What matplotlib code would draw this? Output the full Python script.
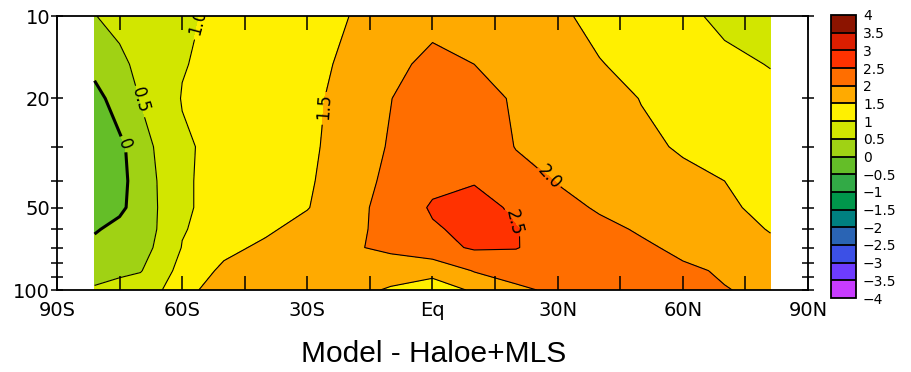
import numpy as np
import matplotlib
matplotlib.use("Agg")
import matplotlib.pyplot as plt
from matplotlib.ticker import NullFormatter, FuncFormatter

# ---- data -------------------------------------------------------------
lats = [-81, -75, -70, -65, -60, -50, -40, -30, -20, -10, 0, 10, 20, 30, 40, 50, 60, 70, 81]
plev = [10, 15, 20, 30, 40, 50, 60, 70, 85, 100]

v_10 = [0.49, 0.60, 0.70, 0.82, 0.93, 1.10, 1.25, 1.38, 1.50, 1.65, 1.85, 1.80, 1.70, 1.56, 1.40, 1.25, 1.10, 0.90, 0.75]
v_15 = [0.12, 0.41, 0.60, 0.77, 0.98, 1.11, 1.25, 1.39, 1.57, 1.85, 2.15, 2.00, 1.85, 1.68, 1.52, 1.38, 1.25, 1.12, 0.98]
v_20 = [-0.15, 0.20, 0.51, 0.77, 1.02, 1.14, 1.28, 1.41, 1.63, 1.99, 2.30, 2.20, 1.94, 1.79, 1.64, 1.49, 1.38, 1.25, 1.15]
v_30 = [-0.40, -0.10, 0.25, 0.65, 0.93, 1.15, 1.28, 1.42, 1.68, 2.05, 2.32, 2.38, 1.98, 1.85, 1.72, 1.58, 1.46, 1.38, 1.30]
v_40 = [-0.45, -0.13, 0.20, 0.58, 0.95, 1.13, 1.28, 1.44, 1.76, 2.12, 2.40, 2.47, 2.22, 1.98, 1.85, 1.72, 1.60, 1.50, 1.42]
v_50 = [-0.42, -0.10, 0.22, 0.56, 0.95, 1.13, 1.31, 1.48, 1.82, 2.19, 2.55, 2.68, 2.42, 2.15, 1.95, 1.82, 1.68, 1.55, 1.42]
v_60 = [-0.05, 0.15, 0.32, 0.55, 0.97, 1.20, 1.43, 1.66, 1.90, 2.12, 2.45, 2.62, 2.52, 2.28, 2.12, 1.95, 1.80, 1.65, 1.48]
v_70 = [0.15, 0.25, 0.38, 0.58, 1.02, 1.38, 1.59, 1.76, 1.94, 2.10, 2.35, 2.55, 2.52, 2.30, 2.20, 2.08, 1.90, 1.75, 1.58]
v_85 = [0.35, 0.42, 0.47, 0.82, 1.15, 1.60, 1.64, 1.70, 1.75, 1.70, 1.62, 2.03, 2.20, 2.30, 2.28, 2.20, 2.08, 1.95, 1.80]
v_100 = [0.55, 0.65, 0.80, 0.98, 1.42, 1.62, 1.70, 1.78, 1.65, 1.45, 1.30, 1.55, 1.90, 2.10, 2.15, 2.12, 2.08, 2.02, 1.90]

levels = [-4, -3.5, -3, -2.5, -2, -1.5, -1, -0.5, 0, 0.5, 1, 1.5, 2, 2.5, 3, 3.5, 4]
fill_colors = ['#c83cff', '#6e3cff', '#3c50e6', '#2a64b4', '#008080', '#00964b',
               '#32aa46', '#64be28', '#a0d214', '#d2e600', '#fff000', '#ffaa00',
               '#ff6e00', '#ff3200', '#dc1e00', '#8c1400']

xtick_vals = [-90, -60, -30, 0, 30, 60, 90]
xtick_labels = ['90S', '60S', '30S', 'Eq', '30N', '60N', '90N']
xminor_vals = [-75, -45, -15, 15, 45, 75]
ytick_vals = [10, 20, 50, 100]
ytick_labels = ['10', '20', '50', '100']
yminor_vals = [30, 40, 60, 70, 80, 90]

line_levels = [0, 0.5, 1.0, 1.5, 2.0, 2.5]
label_fmt = {0: '0', 0.5: '0.5', 1.0: '1.0', 1.5: '1.5', 2.0: '2.0', 2.5: '2.5'}
label_pos = [(-73.4, 29.0), (-70.3, 20.3), (-56.4, 10.5), (-25.8, 21.5), (27.8, 39.0), (17.4, 60.4)]
label_rot = {'0': -70, '0.5': -74, '1.0': 75, '1.5': 86, '2.0': -47, '2.5': -76}

title = 'Model - Haloe+MLS'

# ---- figure -----------------------------------------------------------
Z = np.array([v_10, v_15, v_20, v_30, v_40, v_50, v_60, v_70, v_85, v_100])
X, Y = np.meshgrid(lats, plev)

fig = plt.figure(figsize=(9.12, 3.72), dpi=100)
ax = fig.add_axes([57 / 912, 1 - 290 / 372, 751 / 912, 274 / 372])
ax.set_yscale('log')

cf = ax.contourf(X, Y, Z, levels=levels, colors=fill_colors)
lws = [2.2 if lv == 0 else 0.8 for lv in line_levels]
cs = ax.contour(X, Y, Z, levels=line_levels, colors='k', linewidths=lws)
texts = ax.clabel(cs, fmt=label_fmt, fontsize=12,
                  inline=True, inline_spacing=3, manual=label_pos)
for t in texts:
    t.set_clip_on(True)
    t.set_clip_box(ax.bbox)
    t.set_rotation(label_rot.get(t.get_text(), t.get_rotation()))

ax.set_xlim(-90, 90)
ax.set_ylim(100, 10)
ax.set_xticks(xtick_vals)
ax.set_xticklabels(xtick_labels)
ax.set_xticks(xminor_vals, minor=True)
ax.set_yticks(ytick_vals)
ax.set_yticklabels(ytick_labels)
ax.set_yticks(yminor_vals, minor=True)
ax.yaxis.set_minor_formatter(NullFormatter())

ax.tick_params(axis='x', which='both', direction='in', length=10, width=1.1,
               top=True, bottom=True, labelsize=14, pad=8)
ax.tick_params(axis='y', which='both', direction='inout', length=8, width=1.1,
               left=True, right=True, labelsize=14, pad=1)
for s in ax.spines.values():
    s.set_linewidth(1.3)

# colorbar
cax = fig.add_axes([831 / 912, 1 - 298 / 372, 25 / 912, 283 / 372])
cb = fig.colorbar(cf, cax=cax, ticks=levels, drawedges=True)
cb.outline.set_linewidth(1.3)
cb.dividers.set_linewidth(1.3)
cb.ax.yaxis.set_major_formatter(FuncFormatter(lambda v, p: f'{v:g}'.replace('-', '\u2212')))
cax.tick_params(length=0, pad=5, labelsize=10)

fig.text(434 / 912, 1 - 362 / 372, title, ha='center', va='baseline',
         fontsize=21.5, family='Liberation Sans')

fig.savefig('out.png', dpi=100)
